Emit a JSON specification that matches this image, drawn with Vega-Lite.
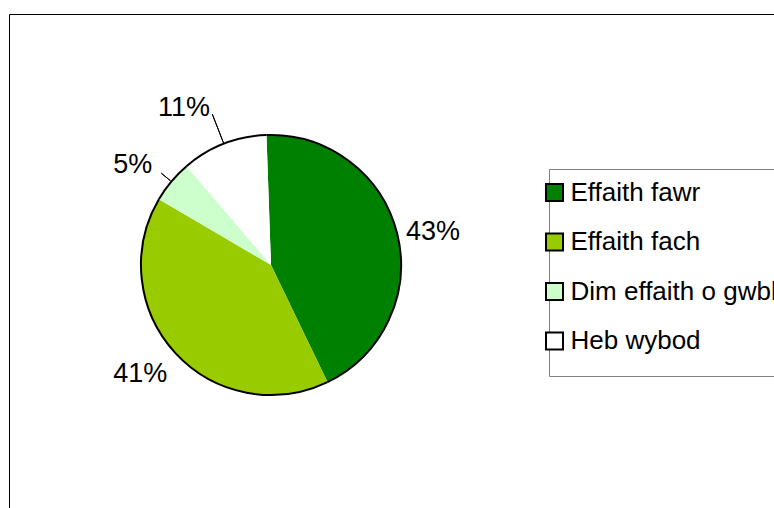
{
  "$schema": "https://vega.github.io/schema/vega-lite/v6.json",
  "autosize": "none",
  "padding": {"left": 9, "top": 14, "right": 0, "bottom": 0},
  "width": 800,
  "height": 520,
  "background": "white",
  "view": {"stroke": "black", "strokeWidth": 1, "fill": "white"},
  "config": {"view": {"stroke": "black", "strokeWidth": 1}, "style": {"view": {"stroke": "black", "strokeWidth": 1}}, "font": "Liberation Sans"},
  "data": {"values": [
    {"category": "Effaith fawr", "value": 0.434},
    {"category": "Effaith fach", "value": 0.406},
    {"category": "Dim effaith o gwbl", "value": 0.053},
    {"category": "Heb wybod", "value": 0.107}
  ]},
  "encoding": {
    "theta": {"field": "value", "type": "quantitative", "stack": true, "scale": {"range": [-0.7072, 5.5760]}},
    "order": {"field": "category", "type": "nominal", "sort": "descending"},
    "color": {
      "field": "category", "type": "nominal",
      "scale": {"domain": ["Effaith fawr", "Effaith fach", "Dim effaith o gwbl", "Heb wybod"], "range": ["#008000", "#99CC00", "#CCFFCC", "#FFFFFF"]},
      "legend": {
        "title": " ", "titleOrient": "bottom", "titleFontSize": 8, "titlePadding": 2.5,
        "orient": "none", "legendX": 540, "legendY": 155,
        "fillColor": "white", "strokeColor": "#808080", "padding": 10.5,
        "symbolType": "square", "symbolSize": 289, "symbolStrokeWidth": 2, "symbolStrokeColor": "black", "symbolOpacity": 1,
        "labelFont": "Liberation Sans", "labelFontSize": 26, "labelColor": "black", "labelLimit": 400,
        "rowPadding": 23.5, "symbolOffset": -18, "labelOffset": 3
      }
    }
  },
  "layer": [
    {"mark": {"type": "arc", "x": 262, "y": 251, "outerRadius": 130}},
    {"mark": {"type": "arc", "x": 262, "y": 251, "outerRadius": 130, "innerRadius": 130, "strokeWidth": 2},
     "encoding": {"fill": {"value": "transparent"}, "stroke": {"value": "black"}}},
    {"mark": {"type": "arc", "x": 262, "y": 251, "outerRadius": 162, "innerRadius": 131, "padAngle": 3, "strokeWidth": 1},
     "encoding": {"fill": {"value": "transparent"}, "stroke": {"condition": {"test": "datum.category === 'Heb wybod'", "value": "black"}, "value": "transparent"}}},
    {"mark": {"type": "arc", "x": 262, "y": 251, "outerRadius": 143, "innerRadius": 131, "padAngle": 3, "strokeWidth": 1},
     "encoding": {"fill": {"value": "transparent"}, "stroke": {"condition": {"test": "datum.category === 'Dim effaith o gwbl'", "value": "black"}, "value": "transparent"}}},
    {"mark": {"type": "text", "x": 262, "y": 251, "radius": 139, "align": "left", "baseline": "middle", "fontSize": 27, "font": "Liberation Sans"},
     "encoding": {"fill": {"value": "black"}, "text": {"condition": {"test": "datum.category === 'Effaith fawr'", "field": "value", "type": "quantitative", "format": ".0%"}, "value": ""}}},
    {"mark": {"type": "text", "x": 262, "y": 251, "radius": 141, "align": "right", "baseline": "top", "fontSize": 27, "font": "Liberation Sans"},
     "encoding": {"fill": {"value": "black"}, "text": {"condition": {"test": "datum.category === 'Effaith fach'", "field": "value", "type": "quantitative", "format": ".0%"}, "value": ""}}},
    {"mark": {"type": "text", "x": 262, "y": 251, "radius": 155, "align": "right", "baseline": "middle", "fontSize": 27, "font": "Liberation Sans"},
     "encoding": {"fill": {"value": "black"}, "text": {"condition": {"test": "datum.category === 'Dim effaith o gwbl'", "field": "value", "type": "quantitative", "format": ".0%"}, "value": ""}}},
    {"mark": {"type": "text", "x": 262, "y": 251, "radius": 168, "align": "right", "baseline": "middle", "fontSize": 27, "font": "Liberation Sans"},
     "encoding": {"fill": {"value": "black"}, "text": {"condition": {"test": "datum.category === 'Heb wybod'", "field": "value", "type": "quantitative", "format": ".0%"}, "value": ""}}}
  ]
}
